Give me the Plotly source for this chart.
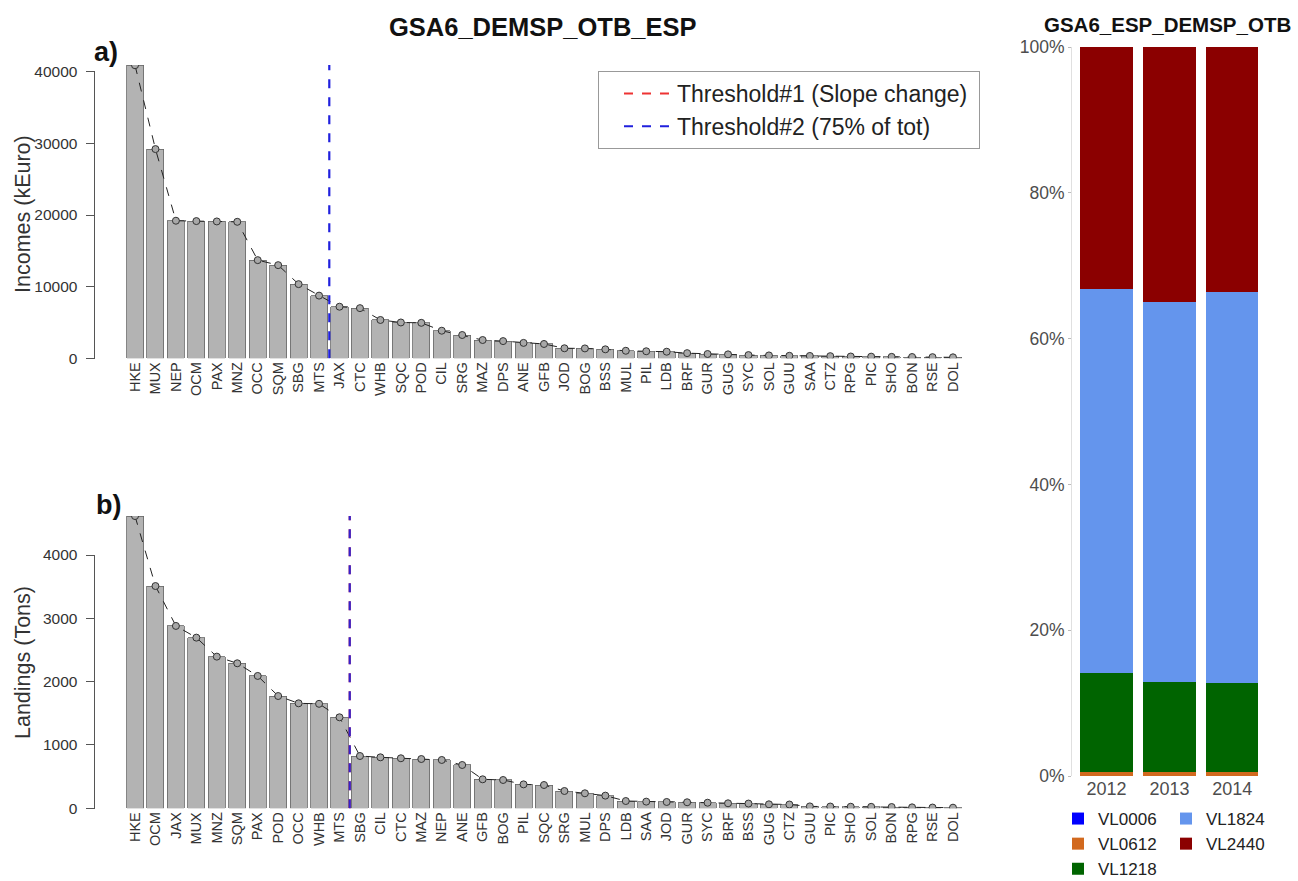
import plotly.graph_objects as go

W, H = 1298, 881
FONT = "Liberation Sans, Arial, sans-serif"

# ---------------- data: panel a (Incomes) ----------------
species_a = ["HKE", "MUX", "NEP", "OCM", "PAX", "MNZ", "OCC", "SQM", "SBG", "MTS",
             "JAX", "CTC", "WHB", "SQC", "POD", "CIL", "SRG", "MAZ", "DPS", "ANE",
             "GFB", "JOD", "BOG", "BSS", "MUL", "PIL", "LDB", "BRF", "GUR", "GUG",
             "SYC", "SOL", "GUU", "SAA", "CTZ", "RPG", "PIC", "SHO", "BON", "RSE", "DOL"]
incomes = [40900, 29200, 19200, 19150, 19100, 19050, 13700, 13000, 10350, 8750,
           7200, 7000, 5350, 5000, 4950, 3850, 3250, 2550, 2400, 2150,
           2000, 1400, 1380, 1250, 1050, 980, 920, 720, 600, 550,
           450, 400, 350, 330, 300, 250, 230, 200, 180, 160, 140]
yticks_a = [0, 10000, 20000, 30000, 40000]

# ---------------- data: panel b (Landings) ----------------
species_b = ["HKE", "OCM", "JAX", "MUX", "MNZ", "SQM", "PAX", "POD", "OCC", "WHB",
             "MTS", "SBG", "CIL", "CTC", "MAZ", "NEP", "ANE", "GFB", "BOG", "PIL",
             "SQC", "SRG", "MUL", "DPS", "LDB", "SAA", "JOD", "GUR", "SYC", "BRF",
             "BSS", "GUG", "CTZ", "GUU", "PIC", "SHO", "SOL", "BON", "RPG", "RSE", "DOL"]
landings = [4615, 3510, 2880, 2695, 2395, 2290, 2090, 1773, 1658, 1650,
            1437, 826, 805, 790, 778, 763, 684, 458, 447, 378,
            368, 273, 237, 200, 115, 105, 100, 95, 88, 79,
            75, 63, 60, 30, 28, 25, 23, 20, 15, 12, 10]
yticks_b = [0, 1000, 2000, 3000, 4000]

# thresholds: line drawn just after these categories
thr2_after_a = "MTS"
thr1_after_b = "MTS"
thr2_after_b = "MTS"

# ---------------- data: right panel (fleet segment shares, %) ----------------
years = ["2012", "2013", "2014"]
segments = ["VL0006", "VL0612", "VL1218", "VL1824", "VL2440"]
VL0006 = [0.0, 0.0, 0.0]
VL0612 = [0.6, 0.6, 0.6]
VL1218 = [13.5, 12.3, 12.2]
VL1824 = [52.7, 52.1, 53.6]
VL2440 = [33.2, 35.0, 33.6]
seg_values = [VL0006, VL0612, VL1218, VL1824, VL2440]
seg_colors = ["#0000FF", "#D2691E", "#006400", "#6495ED", "#8B0000"]
seg_legend = ["legend2", "legend2", "legend2", "legend3", "legend3"]
pct_ticks = [0, 20, 40, 60, 80, 100]
pct_labels = [f"{v}%" for v in pct_ticks]

# ---------------- geometry helpers (pixels -> paper) ----------------
def px_x(p):
    return p / W

def px_y(p):
    return 1 - p / H

fig = go.Figure()

BAR_FILL = "#b3b3b3"
BAR_LINE = "#666666"
MARK = dict(symbol="circle", size=7, color="#a8a8a8", line=dict(color="#333333", width=1))

# panel a bars + line
fig.add_trace(go.Bar(x=species_a, y=incomes, xaxis="x", yaxis="y",
                     marker=dict(color=BAR_FILL, line=dict(color=BAR_LINE, width=0.8)),
                     showlegend=False))
fig.add_trace(go.Scatter(x=species_a, y=incomes, xaxis="x", yaxis="y", mode="lines+markers",
                         line=dict(color="#222222", width=1, dash="dash"),
                         marker=MARK, showlegend=False))
# panel b bars + line
fig.add_trace(go.Bar(x=species_b, y=landings, xaxis="x2", yaxis="y2",
                     marker=dict(color=BAR_FILL, line=dict(color=BAR_LINE, width=0.8)),
                     showlegend=False))
fig.add_trace(go.Scatter(x=species_b, y=landings, xaxis="x2", yaxis="y2", mode="lines+markers",
                         line=dict(color="#222222", width=1, dash="dash"),
                         marker=MARK, showlegend=False))

RED = "#ee3333"
BLUE = "#2020dd"
# legend entries for thresholds
fig.add_trace(go.Scatter(x=[None], y=[None], xaxis="x", yaxis="y", mode="lines",
                         line=dict(color=RED, width=2, dash="dash"),
                         name="Threshold#1 (Slope change)&nbsp;", legend="legend"))
fig.add_trace(go.Scatter(x=[None], y=[None], xaxis="x", yaxis="y", mode="lines",
                         line=dict(color=BLUE, width=2, dash="dash"),
                         name="Threshold#2 (75% of tot)", legend="legend"))

# right panel stacked bars
for name, vals, col, lg in zip(segments, seg_values, seg_colors, seg_legend):
    fig.add_trace(go.Bar(x=years, y=vals, name=name, xaxis="x3", yaxis="y3",
                         marker=dict(color=col, line=dict(width=0)), legend=lg))

shapes = []
# threshold lines
xa = species_a.index(thr2_after_a) + 0.5
shapes.append(dict(type="line", xref="x", yref="y domain", x0=xa, x1=xa, y0=0, y1=1,
                   line=dict(color=BLUE, width=2.2, dash="dash")))
xb1 = species_b.index(thr1_after_b) + 0.5
shapes.append(dict(type="line", xref="x2", yref="y2 domain", x0=xb1, x1=xb1, y0=0, y1=1,
                   line=dict(color=RED, width=2.2, dash="dash")))
xb2 = species_b.index(thr2_after_b) + 0.5
shapes.append(dict(type="line", xref="x2", yref="y2 domain", x0=xb2, x1=xb2, y0=0, y1=1,
                   opacity=0.9, line=dict(color=BLUE, width=2.2, dash="dash")))
# R-style y axis lines (span first to last tick)
YAX_X = px_x(94.5)
shapes.append(dict(type="line", xref="paper", yref="y", x0=YAX_X, x1=YAX_X,
                   y0=yticks_a[0], y1=yticks_a[-1], line=dict(color="#555555", width=1)))
shapes.append(dict(type="line", xref="paper", yref="y2", x0=YAX_X, x1=YAX_X,
                   y0=yticks_b[0], y1=yticks_b[-1], line=dict(color="#555555", width=1)))

def label(text, x, y, size, angle=0, color="#111111"):
    return dict(text=text, x=px_x(x), y=px_y(y), xref="paper", yref="paper",
                xanchor="center", yanchor="middle", showarrow=False, textangle=angle,
                font=dict(family=FONT, size=size, color=color))

ann = [
    label("<b>GSA6_DEMSP_OTB_ESP</b>", 543, 27, 25.5),
    label("<b>GSA6_ESP_DEMSP_OTB</b>", 1167, 24, 20.5),
    label("<b>a)</b>", 106, 52, 27),
    label("<b>b)</b>", 108, 505, 27),
    label("Incomes (kEuro)", 23, 214, 21.5, -90, "#333333"),
    label("Landings (Tons)", 23, 663, 21.5, -90, "#333333"),
]

XDOM = [px_x(124.8), px_x(963.2)]
tickfont_x = dict(family=FONT, size=14.5, color="#333333")
tickfont_y = dict(family=FONT, size=15.5, color="#333333")

common_x = dict(type="category", tickangle=-90, tickfont=tickfont_x, showgrid=False,
                zeroline=False, showline=False, ticks="", tickmode="linear", dtick=1)
common_y = dict(anchor="free", position=YAX_X, tickmode="array", tickformat="d",
                ticks="outside", ticklen=9, tickcolor="#555555", ticklabelstandoff=5,
                tickfont=tickfont_y, showgrid=False, zeroline=False, showline=False)

fig.update_layout(
    width=W, height=H, margin=dict(l=0, r=0, t=0, b=0, autoexpand=False),
    paper_bgcolor="white", plot_bgcolor="white",
    barmode="stack", bargap=0.1667,
    font=dict(family=FONT),
    shapes=shapes, annotations=ann,
    xaxis=dict(domain=XDOM, anchor="y", range=[-0.5, len(species_a) - 0.5], **common_x),
    yaxis=dict(domain=[px_y(358.3), px_y(65)], range=[0, 40935], tickvals=yticks_a, **common_y),
    xaxis2=dict(domain=XDOM, anchor="y2", range=[-0.5, len(species_b) - 0.5], **common_x),
    yaxis2=dict(domain=[px_y(808.3), px_y(516)], range=[0, 4616], tickvals=yticks_b, **common_y),
    xaxis3=dict(domain=[px_x(1072), px_x(1270)], anchor="y3", type="category",
                range=[-0.55, 2.6], tickfont=dict(family=FONT, size=18, color="#4d4d4d"),
                showgrid=False, zeroline=False, showline=False, ticks=""),
    yaxis3=dict(domain=[px_y(776), px_y(47)], anchor="x3", range=[0, 100],
                tickmode="array", tickvals=pct_ticks, ticktext=pct_labels,
                ticks="outside", ticklen=3, tickcolor="#bbbbbb",
                showline=True, linecolor="#e0e0e0", linewidth=1,
                tickfont=dict(family=FONT, size=17.5, color="#4d4d4d"),
                showgrid=False, zeroline=False),
    legend=dict(x=px_x(598), y=px_y(71), xanchor="left", yanchor="top", traceorder="normal",
                bgcolor="white", bordercolor="#999999", borderwidth=1,
                font=dict(family=FONT, size=23, color="#222222"), itemwidth=48,
                indentation=20),
    legend2=dict(x=px_x(1070), y=px_y(801), xanchor="left", yanchor="top", traceorder="normal",
                 bgcolor="rgba(0,0,0,0)", itemwidth=30, indentation=-12,
                 font=dict(family=FONT, size=17, color="#222222")),
    legend3=dict(x=px_x(1178), y=px_y(801), xanchor="left", yanchor="top", traceorder="normal",
                 bgcolor="rgba(0,0,0,0)", itemwidth=30, indentation=-12,
                 font=dict(family=FONT, size=17, color="#222222")),
)

fig.write_html("out.html")
